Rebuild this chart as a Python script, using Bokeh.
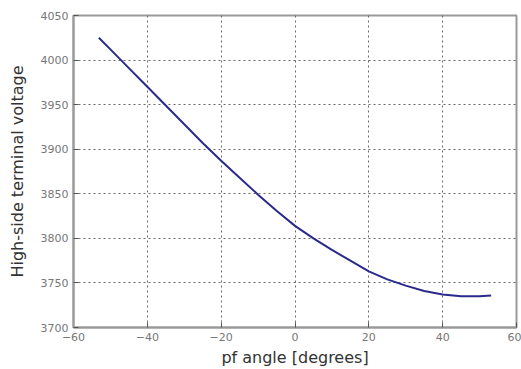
from bokeh.plotting import figure
from bokeh.models import Range1d, FixedTicker
from bokeh.embed import file_html
from bokeh.resources import INLINE

# data
pf_angle = [-53.13, -50, -45, -40, -35, -30, -25, -20, -15, -10, -5, 0,
            5, 10, 15, 20, 25, 30, 35, 40, 45, 50, 53.13]
voltage = [4025, 4012, 3991, 3970, 3949, 3928, 3907, 3887, 3868, 3849, 3831, 3814,
           3800, 3787, 3775, 3763, 3754, 3747, 3741, 3737, 3735, 3735, 3736]
x_ticks = [-60, -40, -20, 0, 20, 40, 60]
y_ticks = [3700, 3750, 3800, 3850, 3900, 3950, 4000, 4050]

p = figure(width=521, height=369, output_backend="svg", toolbar_location=None,
           x_range=Range1d(-60, 60), y_range=Range1d(3700, 4050),
           min_border_left=73, min_border_right=5, min_border_top=15, min_border_bottom=42)

p.line(pf_angle, voltage, line_color="#2a2a8c", line_width=2)

p.xaxis.ticker = FixedTicker(ticks=x_ticks)
p.yaxis.ticker = FixedTicker(ticks=y_ticks)
p.xaxis.axis_label = "pf angle [degrees]"
p.yaxis.axis_label = "High-side terminal voltage"

for ax in (p.xaxis[0], p.yaxis[0]):
    ax.major_tick_in = 5
    ax.major_tick_out = 0
    ax.minor_tick_in = 0
    ax.minor_tick_out = 0
    ax.axis_line_color = "#999999"
    ax.axis_line_width = 2
    ax.major_tick_line_color = "#555555"
    ax.major_label_text_font = "DejaVu Sans"
    ax.major_label_text_font_size = "11px"
    ax.major_label_text_color = "#777777"
    ax.axis_label_text_font = "DejaVu Sans"
    ax.axis_label_text_font_size = "16px"
    ax.axis_label_text_font_style = "normal"
    ax.axis_label_text_color = "#333333"

p.xaxis.major_label_standoff = 5
p.xaxis.axis_label_standoff = 4
p.yaxis.major_label_standoff = 5
p.yaxis.axis_label_standoff = 11

p.xgrid.ticker = FixedTicker(ticks=x_ticks)
p.ygrid.ticker = FixedTicker(ticks=y_ticks)
p.grid.grid_line_color = "#444444"
p.grid.grid_line_dash = "2 3"
p.grid.grid_line_width = 1
p.grid.grid_line_alpha = 0.8

p.outline_line_color = "#999999"
p.outline_line_width = 2
p.background_fill_color = "white"
p.border_fill_color = "white"

open("out.html", "w").write(file_html(p, INLINE))
